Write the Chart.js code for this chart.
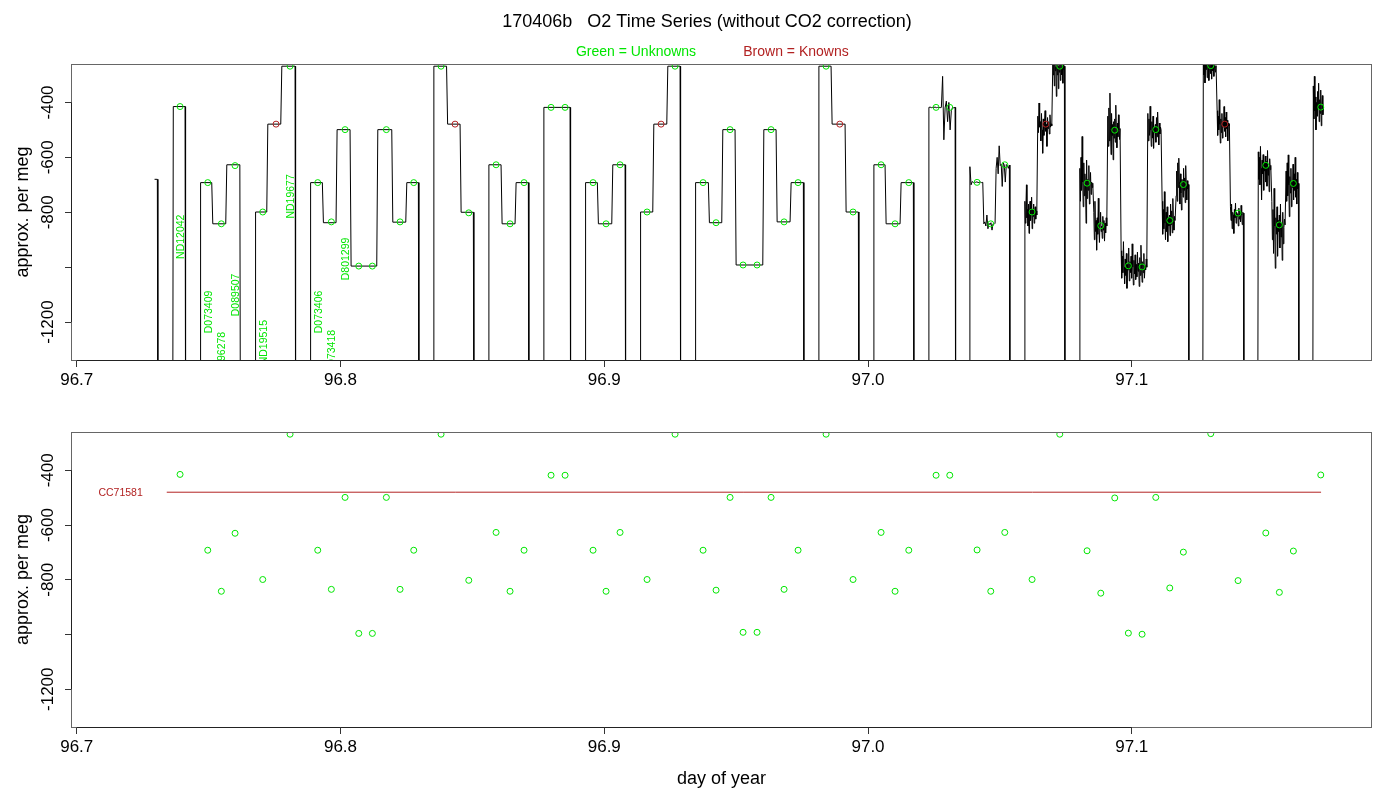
<!DOCTYPE html>
<html>
<head>
<meta charset="utf-8">
<script src="https://cdn.jsdelivr.net/npm/chart.js@4.4.0/dist/chart.umd.min.js"></script>
<style>
  body { margin: 0; background: #fff; }
  #wrap { position: relative; width: 1400px; height: 800px; }
  canvas { position: absolute; left: 0; }
</style>
</head>
<body>
<div id="wrap">
  <canvas id="topChart" width="1400" height="400" style="top:0"></canvas>
  <canvas id="bottomChart" width="1400" height="400" style="top:400px"></canvas>
</div>
<script>
// ---- axes ----
const xTicks = [96.7, 96.8, 96.9, 97.0, 97.1];
const yTicks = [-1200, -1000, -800, -600, -400];
const yTickLabels = ['-1200', '', '-800', '-600', '-400'];

// ---- raw O2 trace, one cycle per flush (values in per meg) ----
const flushO2 = -1600; // off scale, between samples
const cycleStart = [96.7295, 96.7364, 96.74675, 96.7676, 96.78846, 96.8352, 96.85606, 96.87691,
  96.89272, 96.91357, 96.93443, 96.98118, 97.00203, 97.02288, 97.03843, 97.05928, 97.08013,
  97.12692, 97.14777, 97.16863];
const cycleStepEnd = [
  [96.73056],
  [96.74106],
  [96.75118, 96.75649, 96.76184],
  [96.77204, 96.77735, 96.78277],
  [96.79312, 96.79831, 96.80362, 96.81374, 96.81943, 96.82474, 96.82952],
  [96.84021, 96.84533, 96.85037],
  [96.86087, 96.86618, 96.87122],
  [96.88703],
  [96.89738, 96.90284, 96.90789],
  [96.91839, 96.9237, 96.92874],
  [96.93947, 96.94455, 96.94959, 96.9601, 96.96514, 96.97045, 96.97549],
  [96.98599, 96.9913, 96.99634],
  [97.00646, 97.01215, 97.01719],
  [97.03301],
  [97.04351, 97.04817, 97.05359],
  [97.06398, 97.06967, 97.07445],
  [97.08521, 97.09052, 97.09556, 97.10569, 97.11111, 97.11642, 97.12146],
  [97.13196, 97.13701, 97.14231],
  [97.1527, 97.15812, 97.16317],
  [97.17265]
];
const cycleStepO2 = [
  [-680],
  [-415],
  [-692, -842, -627],
  [-799, -479, -268],
  [-692, -838, -499, -996, -499, -836, -692],
  [-268, -479, -800],
  [-627, -842, -692],
  [-418],
  [-692, -842, -627],
  [-799, -479, -268],
  [-692, -838, -499, -992, -499, -835, -692],
  [-268, -479, -799],
  [-627, -842, -692],
  [-418],
  [-691, -842, -627],
  [-799, -479, -268],
  [-694, -849, -501, -997, -499, -830, -699],
  [-266, -479, -803],
  [-629, -846, -695],
  [-417]
];
// noisy plateaus (cycle, step, readings)
const noiseCycle = [13, 14, 14, 14, 15, 15, 15, 16, 16, 16, 16, 16, 16, 16, 17, 17, 17, 18, 18, 18, 19];
const noiseStep  = [0, 0, 1, 2, 0, 1, 2, 0, 1, 2, 3, 4, 5, 6, 0, 1, 2, 0, 1, 2, 0];
const noiseO2 = [
  [-418, -417, -419, -418, -418, -417, -419, -418, -418, -419, -418, -305, -536, -420, -395, -470, -400, -500, -430, -418, -420, -418],
  [-634, -700, -688, -692, -690, -691, -689, -692, -691, -690, -692, -691],
  [-842, -835, -850, -810, -860, -840, -845, -838, -865, -842, -844, -840],
  [-640, -600, -660, -558, -630, -625, -706, -620, -628, -690, -626, -630, -640, -628],
  [-760, -840, -780, -700, -820, -790, -850, -770, -877, -800, -760, -830, -805, -745, -860, -790, -815, -770, -840, -800, -780, -825, -795, -810],
  [-450, -510, -402, -490, -470, -540, -440, -500, -585, -460, -520, -475, -430, -505, -480, -560, -455, -495, -470, -515, -445, -490, -478, -485],
  [-250, -300, -262, -340, -240, -285, -270, -378, -262, -300, -235, -350, -268, -290, -255, -320, -245, -275, -300, -262, -330, -265, -280, -268],
  [-640, -760, -600, -720, -524, -690, -780, -620, -740, -660, -700, -840, -610, -750, -680, -720, -630, -770, -700, -655, -735, -690, -710, -694],
  [-800, -900, -760, -870, -830, -938, -820, -880, -749, -860, -910, -840, -800, -870, -850, -895, -815, -865, -830, -905, -840, -875, -820, -850],
  [-450, -560, -420, -540, -366, -500, -590, -440, -520, -480, -609, -470, -530, -460, -545, -410, -510, -565, -475, -525, -445, -500, -535, -495],
  [-940, -1040, -960, -1020, -907, -1000, -1060, -970, -1030, -950, -1077, -990, -1010, -930, -1050, -980, -1020, -960, -1040, -915, -1000, -1065, -975,
   -1025, -955, -1045, -990, -1035, -945, -1015, -985, -1070, -965, -1030, -920, -1005, -1055, -980, -1020, -950, -1040, -995, -1010, -970, -1000],
  [-440, -540, -460, -520, -414, -500, -560, -470, -530, -450, -567, -490, -510, -480, -545, -455, -525, -435, -505, -555, -475, -515, -490, -500],
  [-760, -880, -790, -860, -725, -840, -900, -800, -870, -780, -907, -820, -850, -810, -885, -770, -845, -795, -875, -750, -835, -865, -815, -830],
  [-740, -650, -760, -620, -710, -603, -690, -770, -660, -730, -792, -680, -700, -745, -640, -720, -675, -765, -630, -705, -755, -685, -715, -699],
  [-240, -300, -255, -329, -262, -280, -230, -310, -266, -250, -320, -270, -245, -295, -260, -315, -250, -285, -240, -305, -266, -275, -290, -266],
  [-430, -520, -450, -500, -390, -480, -548, -460, -510, -440, -530, -470, -490, -415, -505, -455, -525, -435, -495, -465, -540, -475, -485, -479],
  [-780, -830, -770, -860, -800, -810, -877, -790, -820, -767, -840, -800, -815, -805, -850, -785, -825, -795, -835, -775, -810, -845, -800, -803],
  [-580, -680, -600, -700, -560, -640, -755, -610, -660, -590, -720, -620, -650, -595, -690, -615, -705, -575, -665, -635, -725, -605, -645, -629],
  [-760, -900, -790, -950, -713, -850, -1004, -820, -880, -780, -960, -830, -870, -810, -930, -770, -890, -840, -975, -800, -915, -855, -825, -846],
  [-650, -760, -620, -740, -591, -700, -816, -670, -730, -640, -780, -690, -710, -625, -755, -660, -720, -600, -745, -680, -770, -655, -715, -695],
  [-340, -460, -305, -430, -380, -500, -400, -450, -360, -420, -330, -470, -390, -440, -355, -485, -410, -375, -445, -417]
];

// ---- sample means ----
const unknownDay = [96.73917, 96.74967, 96.75482, 96.76002, 96.77052, 96.78087, 96.79137, 96.79653,
  96.80173, 96.80692, 96.81208, 96.81738, 96.82258, 96.82777, 96.83812, 96.84863, 96.85898, 96.86428,
  96.86959, 96.87983, 96.88514, 96.89575, 96.90068, 96.90599, 96.91623, 96.92684, 96.93746, 96.94239,
  96.9477, 96.95263, 96.95793, 96.96324, 96.96817, 96.97348, 96.9841, 96.99433, 97.00495, 97.01026,
  97.01545, 97.0258, 97.031, 97.04135, 97.04654, 97.05185, 97.0622, 97.0727, 97.08305, 97.08825,
  97.09355, 97.09871, 97.10391, 97.1091, 97.11441, 97.11956, 97.12995, 97.1403, 97.15081, 97.15596,
  97.16127, 97.17166];
const unknownO2 = [-415, -692, -842, -630, -799, -268, -692, -835, -499, -996, -996, -499, -835, -692,
  -268, -802, -627, -842, -692, -418, -418, -692, -842, -627, -799, -268, -692, -838, -499, -992, -992,
  -499, -835, -692, -268, -799, -627, -842, -692, -418, -418, -691, -842, -627, -799, -268, -694, -849,
  -501, -995, -999, -499, -830, -699, -266, -803, -629, -846, -695, -417];
const knownDay = [96.77556, 96.84343, 96.92154, 96.98929, 97.06739, 97.13526];
const knownO2 = [-479, -479, -479, -479, -479, -479];

const sampleNames = ['ND12042', 'D073409', 'D096278', 'D089507', 'ND19515', 'ND19677', 'D073406', 'D073418', 'D801299'];
const sampleAt = [0, 1, 2, 3, 4, 5, 6, 7, 8];

const refName = 'CC71581';
const refO2 = -480;
const refFrom = 96.73412;
const refTo = 97.17177;

// ---- look ----
const FONT = '"Liberation Sans", Arial, Helvetica, sans-serif';
const GREEN = '#00e600';
const BROWN = '#b22222';
Chart.defaults.font.family = FONT;
Chart.defaults.color = '#000';

function buildTrace() {
  const pts = [];
  cycleStart.forEach((t0, c) => {
    const ends = cycleStepEnd[c], levels = cycleStepO2[c];
    let from = t0;
    if (c > 0) pts.push({x: t0, y: flushO2});
    ends.forEach((t1, s) => {
      const a = (c === 0 && s === 0) ? from : from + (s === 0 ? 0.0002 : 0.0004);
      const k = noiseCycle.findIndex((nc, i) => nc === c && noiseStep[i] === s);
      if (k < 0) {
        pts.push({x: a, y: levels[s]}, {x: t1, y: levels[s]});
      } else {
        const v = noiseO2[k];
        v.forEach((val, i) => pts.push({x: a + (t1 - a) * i / (v.length - 1), y: val}));
      }
      from = t1;
    });
    if (c < cycleStart.length - 1) pts.push({x: from + 0.0002, y: flushO2});
  });
  return pts;
}

function pairs(xs, ys) { return xs.map((x, i) => ({x: x, y: ys[i]})); }

function scalesFor(xHeight, withXTitle) {
  return {
    x: {
      type: 'linear', min: 96.6982, max: 97.1907,
      afterBuildTicks: s => { s.ticks = xTicks.map(v => ({value: v})); },
      afterFit: s => { s.height = xHeight; },
      ticks: { font: {size: 17}, color: '#000', padding: 3, maxRotation: 0, autoSkip: false,
               callback: v => v.toFixed(1) },
      grid: { drawOnChartArea: false, drawTicks: true, tickLength: 7, color: '#333' },
      border: { display: false },
      title: { display: withXTitle, text: 'day of year', font: {size: 18}, color: '#000',
               padding: {top: 0, bottom: 10} }
    },
    y: {
      type: 'linear', min: -1338, max: -260,
      afterBuildTicks: s => { s.ticks = yTicks.map(v => ({value: v})); },
      afterFit: s => { s.width = 72; },
      ticks: { display: false },
      grid: { drawOnChartArea: false, drawTicks: true, tickLength: 7, color: '#333' },
      border: { display: false },
      title: { display: true, text: 'approx. per meg', font: {size: 18}, color: '#000',
               padding: {top: 12, bottom: 0} }
    }
  };
}

// R-like frame, rotated y tick labels, and text
function framePlugin(extra) {
  return {
    id: 'rframe',
    afterDatasetsDraw(chart) {
      const {ctx, chartArea: a, scales: {x, y}} = chart;
      ctx.save();
      ctx.lineWidth = 1;
      ctx.strokeStyle = '#666';
      ctx.strokeRect(a.left - 0.5, a.top + 0.5, a.right - a.left + 1, a.bottom - a.top);
      ctx.strokeStyle = '#222';
      ctx.beginPath();
      ctx.moveTo(x.getPixelForValue(xTicks[0]), a.bottom + 0.5);
      ctx.lineTo(x.getPixelForValue(xTicks[xTicks.length - 1]), a.bottom + 0.5);
      ctx.moveTo(a.left - 0.5, y.getPixelForValue(yTicks[0]));
      ctx.lineTo(a.left - 0.5, y.getPixelForValue(yTicks[yTicks.length - 1]));
      ctx.stroke();

      ctx.fillStyle = '#000';
      ctx.font = '17px ' + FONT;
      ctx.textAlign = 'center';
      ctx.textBaseline = 'middle';
      y.ticks.forEach(t => {
        const lab = yTickLabels[yTicks.indexOf(t.value)];
        if (!lab) return;
        ctx.save();
        ctx.translate(48, y.getPixelForValue(t.value));
        ctx.rotate(-Math.PI / 2);
        ctx.fillText(lab, 0, 0);
        ctx.restore();
      });
      ctx.restore();
      if (extra) extra(chart);
    }
  };
}

function topText(chart) {
  const {ctx, chartArea: a, scales: {x, y}} = chart;
  ctx.save();
  ctx.textBaseline = 'middle';
  ctx.textAlign = 'center';
  ctx.fillStyle = '#000';
  ctx.font = '18px ' + FONT;
  ctx.fillText('170406b   O2 Time Series (without CO2 correction)', 707, 22);
  ctx.font = '14px ' + FONT;
  ctx.fillStyle = GREEN;
  ctx.fillText('Green = Unknowns', 636, 52);
  ctx.fillStyle = BROWN;
  ctx.fillText('Brown = Knowns', 796, 52);

  // sample names below their first plateau
  ctx.beginPath();
  ctx.rect(a.left, a.top, a.right - a.left, a.bottom - a.top);
  ctx.clip();
  ctx.fillStyle = GREEN;
  ctx.font = '10.5px ' + FONT;
  ctx.textAlign = 'right';
  sampleNames.forEach((name, i) => {
    const k = sampleAt[i];
    ctx.save();
    ctx.translate(x.getPixelForValue(unknownDay[k]) + 1, y.getPixelForValue(unknownO2[k]) + 108);
    ctx.rotate(-Math.PI / 2);
    ctx.fillText(name, 0, 0);
    ctx.restore();
  });
  ctx.restore();
}

function bottomText(chart) {
  const {ctx, scales: {x, y}} = chart;
  ctx.save();
  ctx.fillStyle = BROWN;
  ctx.font = '10.5px ' + FONT;
  ctx.textAlign = 'right';
  ctx.textBaseline = 'middle';
  ctx.fillText(refName, x.getPixelForValue(refFrom) - 24, y.getPixelForValue(refO2) + 1);
  ctx.restore();
}

const baseOpts = (padTop, xHeight, withXTitle) => ({
  responsive: false,
  animation: false,
  events: [],
  layout: { padding: {left: 0, right: 29, top: padTop, bottom: 0} },
  plugins: { legend: {display: false}, tooltip: {enabled: false}, title: {display: false} },
  scales: scalesFor(xHeight, withXTitle)
});

const circle = (data, color, order) => ({
  data: data, showLine: false, order: order, clip: 0,
  pointStyle: 'circle', pointRadius: 3, pointBorderWidth: 1,
  pointBorderColor: color, pointBackgroundColor: 'rgba(0,0,0,0)'
});

new Chart(document.getElementById('topChart'), {
  type: 'scatter',
  data: {
    datasets: [
      circle(pairs(unknownDay, unknownO2), GREEN, 0),
      circle(pairs(knownDay, knownO2), BROWN, 1),
      { data: buildTrace(), showLine: true, order: 2, clip: 0, borderColor: '#000', borderWidth: 1,
        pointRadius: 0, tension: 0 }
    ]
  },
  options: baseOpts(64, 40, false),
  plugins: [framePlugin(topText)]
});

new Chart(document.getElementById('bottomChart'), {
  type: 'scatter',
  data: {
    datasets: [
      circle(pairs(unknownDay, unknownO2), GREEN, 0),
      { data: [{x: refFrom, y: refO2}, {x: refTo, y: refO2}], showLine: true, order: 1, clip: 0,
        borderColor: BROWN, borderWidth: 1, pointRadius: 0 }
    ]
  },
  options: baseOpts(32, 73, true),
  plugins: [framePlugin(bottomText)]
});
</script>
</body>
</html>
